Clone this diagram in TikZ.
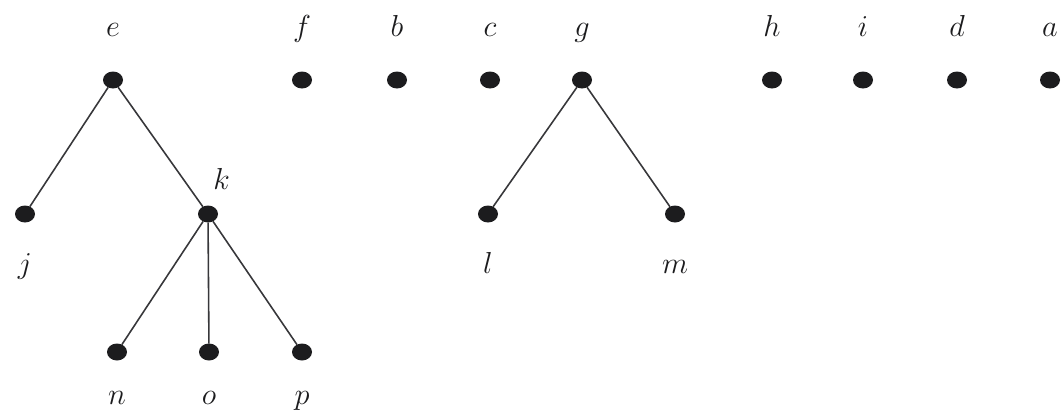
\documentclass[tikz,border=0pt]{standalone}
\definecolor{fwInk}{RGB}{28, 28, 30}
\definecolor{fwEdge}{RGB}{55, 55, 58}
\usepackage{tikz}
\usetikzlibrary{shapes.geometric}
\tikzset{
  vertex/.style={ellipse, fill=fwInk, draw=none, inner sep=0pt, outer sep=0pt, minimum width=0.40cm, minimum height=0.34cm},
  every label/.style={inner sep=0pt, text height=0pt, text depth=0pt, text=fwInk, font=\fontsize{16.5}{20}\selectfont},
  toplbl/.style={label={[label distance=0.67cm]above:$#1$}},
  midlbl/.style={label={[label distance=0.99cm]below:$#1$}},
  botlbl/.style={label={[label distance=0.85cm]below:$#1$}},
  treeline/.style={draw=fwEdge, line width=0.9pt},
}

\begin{document}
\begin{tikzpicture}
  \useasboundingbox (0, 0) rectangle (21.28, 8.30);

  % top row: roots of the forest
  \node[vertex, toplbl=e] (e) at (2.26, 6.70) {};
  \node[vertex, toplbl=f] (f) at (6.04, 6.70) {};
  \node[vertex, toplbl=b] (b) at (7.94, 6.70) {};
  \node[vertex, toplbl=c] (c) at (9.80, 6.70) {};
  \node[vertex, toplbl=g] (g) at (11.64, 6.70) {};
  \node[vertex, toplbl=h] (h) at (15.44, 6.70) {};
  \node[vertex, toplbl=i] (i) at (17.26, 6.70) {};
  \node[vertex, toplbl=d] (d) at (19.14, 6.70) {};
  \node[vertex, toplbl=a] (a) at (21.00, 6.70) {};

  % second level
  \node[vertex, midlbl=j] (j) at (0.50, 4.02) {};
  \node[vertex, label={[anchor=base west, xshift=0.10cm, yshift=0.33cm]above:$k$}] (k) at (4.16, 4.02) {};
  \node[vertex, midlbl=l] (l) at (9.76, 4.02) {};
  \node[vertex, midlbl=m] (m) at (13.50, 4.02) {};

  % third level
  \node[vertex, botlbl=n] (n) at (2.34, 1.26) {};
  \node[vertex, botlbl=o] (o) at (4.18, 1.26) {};
  \node[vertex, botlbl=p] (p) at (6.04, 1.26) {};

  \foreach \u/\v in {e/j, e/k, k/n, k/o, k/p, g/l, g/m} {
    \draw[treeline] (\u) -- (\v);
  }
\end{tikzpicture}
\end{document}
